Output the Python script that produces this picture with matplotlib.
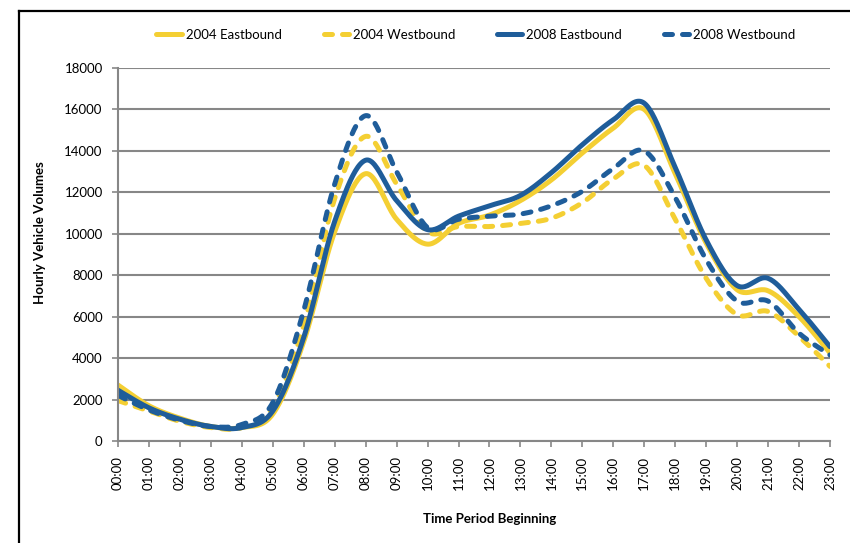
import numpy as np
import matplotlib
matplotlib.use("Agg")
import matplotlib.pyplot as plt
from matplotlib.lines import Line2D

plt.rcParams['font.family'] = ['Lato', 'DejaVu Sans']

hours = ["%02d:00" % h for h in range(24)]

eb2004 = [2700, 1700, 1100, 700, 650, 1300, 4800, 10100, 12900, 10700, 9500, 10500,
          10900, 11600, 12600, 13900, 15100, 16000, 12900, 9550, 7300, 7250, 6000, 4250]
wb2004 = [1950, 1450, 950, 650, 650, 1650, 5600, 11700, 14700, 12400, 10100, 10350,
          10350, 10500, 10750, 11500, 12650, 13300, 10700, 7850, 6100, 6250, 5050, 3600]
eb2008 = [2450, 1600, 1050, 700, 650, 1450, 5000, 10600, 13550, 11600, 10200, 10850,
          11350, 11850, 12950, 14300, 15500, 16300, 13200, 9700, 7500, 7850, 6350, 4550]
wb2008 = [2200, 1500, 1000, 700, 800, 1850, 6300, 12400, 15700, 13000, 10300, 10700,
          10850, 10950, 11350, 12050, 13150, 14000, 11750, 8750, 6750, 6750, 5200, 4150]

series_names = ["2004 Eastbound", "2004 Westbound", "2008 Eastbound", "2008 Westbound"]
yticks = list(range(0, 18001, 2000))

YELLOW = '#F4CF33'
BLUE = '#1F5D9A'
GRID = '#878787'


def smooth(x, y, n=24):
    """Catmull-Rom smoothing similar to Excel's smoothed line."""
    x = np.asarray(x, float)
    y = np.asarray(y, float)
    px = np.concatenate([[x[0]], x, [x[-1]]])
    py = np.concatenate([[y[0]], y, [y[-1]]])
    xs, ys = [], []
    t = np.linspace(0, 1, n, endpoint=False)
    for i in range(1, len(px) - 2):
        p0x, p1x, p2x, p3x = px[i - 1], px[i], px[i + 1], px[i + 2]
        p0y, p1y, p2y, p3y = py[i - 1], py[i], py[i + 1], py[i + 2]
        c1x = p1x + (p2x - p0x) / 6
        c1y = p1y + (p2y - p0y) / 6
        c2x = p2x - (p3x - p1x) / 6
        c2y = p2y - (p3y - p1y) / 6
        b0 = (1 - t) ** 3
        b1 = 3 * (1 - t) ** 2 * t
        b2 = 3 * (1 - t) * t ** 2
        b3 = t ** 3
        xs.append(b0 * p1x + b1 * c1x + b2 * c2x + b3 * p2x)
        ys.append(b0 * p1y + b1 * c1y + b2 * c2y + b3 * p2y)
    xs.append([x[-1]])
    ys.append([y[-1]])
    return np.concatenate(xs), np.concatenate(ys)


fig = plt.figure(figsize=(8.5, 5.43), dpi=100)
ax = fig.add_axes([118 / 850, 1 - 441 / 543, (830 - 118) / 850, (441 - 68) / 543])

x = np.arange(len(hours))
lw = 3.6
styles = [
    (eb2004, YELLOW, '-'),
    (wb2004, YELLOW, '--'),
    (eb2008, BLUE, '-'),
    (wb2008, BLUE, '--'),
]
handles = []
for (vals, col, ls), name in zip(styles, series_names):
    sx, sy = smooth(x, vals)
    if ls == '-':
        ln, = ax.plot(sx, sy, color=col, lw=lw, solid_capstyle='round',
                      solid_joinstyle='round', label=name)
    else:
        ln, = ax.plot(sx, sy, color=col, lw=lw, dash_capstyle='round',
                      dashes=(1.6, 2.0), label=name)
    handles.append(ln)

ax.set_xlim(0, 23)
ax.set_ylim(0, 18000)
ax.set_yticks(yticks)
ax.set_yticklabels([str(v) for v in yticks], fontsize=9.5)
ax.set_xticks(x)
ax.set_xticklabels(hours, rotation=90, fontsize=9.5)
ax.yaxis.grid(True, color=GRID, lw=1.5)
ax.set_axisbelow(True)
for s in ['top', 'right']:
    ax.spines[s].set_visible(False)
for s in ['left', 'bottom']:
    ax.spines[s].set_color(GRID)
    ax.spines[s].set_linewidth(1.5)
ax.tick_params(axis='both', color=GRID, width=1.2, length=4, direction='out')
ax.tick_params(axis='y', pad=7)
ax.tick_params(axis='x', pad=7)

fig.text(40 / 850, 1 - 233 / 543, "Hourly Vehicle Volumes", rotation=90,
         ha='center', va='center', fontsize=9.5, fontweight='bold')
fig.text(490 / 850, 1 - 519 / 543, "Time Period Beginning",
         ha='center', va='center', fontsize=9.5, fontweight='bold')

fig.legend(handles=handles, loc='center', bbox_to_anchor=(476 / 850, 1 - 35 / 543),
           ncol=4, frameon=False, fontsize=9.5, handlelength=1.9,
           handletextpad=0.3, columnspacing=3.2)

# chart border
fig.add_artist(Line2D([18.5 / 850, 18.5 / 850], [0, 1 - 11 / 543], color='black',
                      lw=1.6, transform=fig.transFigure))
fig.add_artist(Line2D([18.5 / 850, 1.0], [1 - 11 / 543, 1 - 11 / 543], color='black',
                      lw=1.6, transform=fig.transFigure))

fig.savefig("out.png", dpi=100)
